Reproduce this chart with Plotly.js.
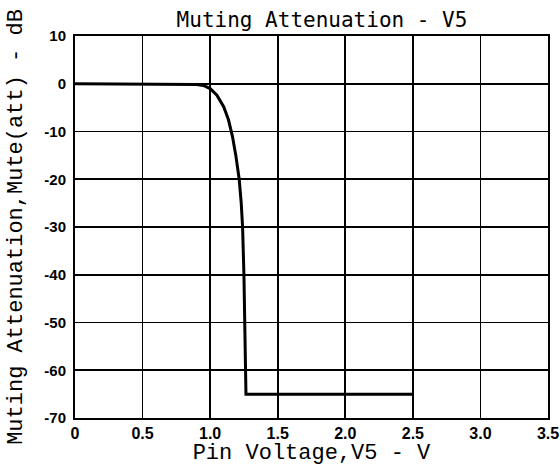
<!DOCTYPE html>
<html>
<head>
<meta charset="utf-8">
<script src="https://cdn.plot.ly/plotly-3.0.1.min.js"></script>
<style>html,body{margin:0;padding:0;background:#fff;}#chart{width:560px;height:466px;}</style>
</head>
<body>
<div id="chart"></div>
<script>
// Pin voltage V5 (V)
const pinVoltage = [0, 0.2, 0.4, 0.6, 0.8, 0.85, 0.9, 0.95, 1.0, 1.05, 1.1, 1.135, 1.165, 1.19, 1.215, 1.23, 1.24, 1.25, 1.257, 1.262, 1.265, 1.5, 2.0, 2.5];
// Muting attenuation (dB)
const muteAtt = [0, 0, 0, 0, 0, -0.05, -0.15, -0.35, -1.0, -2.4, -4.8, -7.5, -11, -15, -20, -25, -30, -40, -50, -60, -65, -65, -65, -65];

const xTickVals = [0, 0.5, 1.0, 1.5, 2.0, 2.5, 3.0, 3.5];
const xTickText = ["0", "0.5", "1.0", "1.5", "2.0", "2.5", "3.0", "3.5"];
const yTickVals = [10, 0, -10, -20, -30, -40, -50, -60, -70];
const yTickText = ["10", "0", "-10", "-20", "-30", "-40", "-50", "-60", "-70"];

const xTickFont = {family: "Liberation Sans, Arial, sans-serif", size: 16, color: "#000", weight: 700};
const yTickFont = {family: "Liberation Sans, Arial, sans-serif", size: 15, color: "#000", weight: 700};
const titleFontMono = {family: "Liberation Mono, Courier New, monospace", size: 22, color: "#000"};

const trace = {
  x: pinVoltage,
  y: muteAtt,
  type: "scatter",
  mode: "lines",
  line: {color: "#000", width: 3},
  hoverinfo: "skip",
  showlegend: false
};

const layout = {
  width: 560,
  height: 466,
  margin: {l: 75, r: 12, t: 36, b: 48},
  paper_bgcolor: "#fff",
  plot_bgcolor: "#fff",
  title: {
    text: "Muting Attenuation - V5",
    font: {family: "DejaVu Sans Mono, monospace", size: 21, color: "#000"},
    x: 322 / 560, xref: "container", xanchor: "center",
    y: 1 - 20 / 466, yref: "container", yanchor: "middle"
  },
  xaxis: {
    range: [0, 3.5],
    tickvals: xTickVals,
    ticktext: xTickText,
    tickfont: xTickFont,
    showgrid: true,
    gridcolor: "#000",
    gridwidth: 1.6,
    showline: true,
    linecolor: "#000",
    linewidth: 2,
    mirror: true,
    zeroline: false,
    ticks: "",
    title: {text: "Pin Voltage,V5 - V", font: titleFontMono, standoff: 0}
  },
  yaxis: {
    range: [-70, 10],
    tickvals: yTickVals,
    ticktext: yTickText,
    tickfont: yTickFont,
    showgrid: true,
    gridcolor: "#000",
    gridwidth: 1.6,
    showline: true,
    linecolor: "#000",
    linewidth: 2,
    mirror: true,
    zeroline: false,
    ticks: "",
    ticklabelstandoff: 4,
    title: {text: "Muting Attenuation,Mute(att) - dB", font: titleFontMono, standoff: 16}
  }
};

Plotly.newPlot("chart", [trace], layout, {displayModeBar: false, staticPlot: true});
</script>
</body>
</html>
